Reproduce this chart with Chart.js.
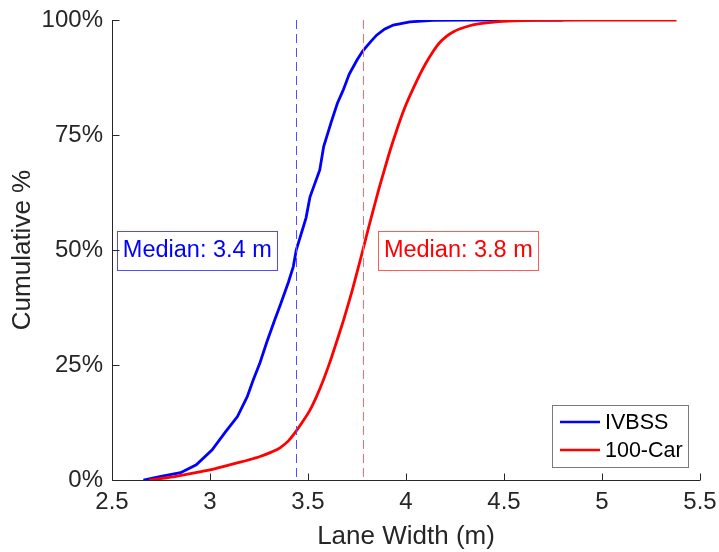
<!DOCTYPE html>
<html>
<head>
<meta charset="utf-8">
<script src="https://cdn.jsdelivr.net/npm/chart.js@4/dist/chart.umd.min.js"></script>
<style>
  html, body { margin: 0; padding: 0; background: #ffffff; }
  #wrap { width: 719px; height: 552px; position: relative; }
</style>
</head>
<body>
<div id="wrap"><canvas id="c" width="719" height="552"></canvas></div>
<script>
// ---- Data ----
const seriesNames = ["IVBSS", "100-Car"];
const seriesColors = ["#0000ff", "#ff0000"];

const ivbssWidth = [2.66, 2.75, 2.85, 2.93, 3.01, 3.08, 3.14, 3.19, 3.22, 3.255, 3.29, 3.33, 3.36, 3.40, 3.425, 3.44, 3.49, 3.51, 3.56, 3.58, 3.62, 3.65, 3.68, 3.71, 3.75, 3.78, 3.82, 3.85, 3.89, 3.935, 4.02, 4.14, 4.30, 4.80];
const ivbssCum   = [0, 0.8, 1.6, 3.3, 6.5, 10.5, 13.8, 18.1, 21.7, 25.5, 30.0, 34.8, 38.2, 43.0, 46.4, 50.0, 57.0, 61.5, 67.4, 72.5, 78.0, 81.9, 84.8, 88.2, 91.3, 93.3, 95.3, 96.7, 98.0, 98.9, 99.6, 99.9, 100, 100];

const carWidth = [2.69, 2.80, 2.90, 3.00, 3.10, 3.20, 3.255, 3.31, 3.357, 3.40, 3.434, 3.47, 3.51, 3.545, 3.578, 3.61, 3.638, 3.67, 3.697, 3.725, 3.748, 3.78, 3.81, 3.833, 3.86, 3.893, 3.92, 3.953, 3.98, 4.004, 4.04, 4.071, 4.10, 4.139, 4.17, 4.208, 4.24, 4.276, 4.32, 4.361, 4.45, 4.55, 4.70, 4.90, 5.38];
const carCum   = [0, 0.6, 1.4, 2.2, 3.3, 4.4, 5.1, 6.0, 7.0, 8.5, 10.3, 12.5, 15.2, 18.3, 21.7, 25.4, 29.0, 33.2, 37.0, 41.1, 44.8, 50.0, 55.0, 58.7, 63.0, 67.9, 71.8, 76.1, 79.4, 82.0, 85.4, 88.2, 90.5, 93.2, 95.0, 96.5, 97.4, 98.1, 98.7, 99.1, 99.55, 99.8, 99.92, 100, 100];

const medianValues = [3.44, 3.78];
const medianLabels = ["Median: 3.4 m", "Median: 3.8 m"];

const xTicks = [2.5, 3, 3.5, 4, 4.5, 5, 5.5];
const yTicks = [0, 25, 50, 75, 100];
const xTitle = "Lane Width (m)";
const yTitle = "Cumulative %";

// ---- Build library structures ----
function pts(xs, ys) { return xs.map((x, i) => ({ x: x, y: ys[i] })); }

const axisColor = "#262626";
const FONT = "'Liberation Sans', Arial, Helvetica, sans-serif";

const overlayPlugin = {
  id: "overlay",
  afterDatasetsDraw(chart) {
    const ctx = chart.ctx;
    const xs = chart.scales.x, ys = chart.scales.y;
    const ca = chart.chartArea;
    ctx.save();
    // median dashed lines
    const dashCols = ["#4f4fff", "#ff6a6a"];
    medianValues.forEach((m, i) => {
      const px = Math.round(xs.getPixelForValue(m)) + 0.5;
      ctx.strokeStyle = dashCols[i];
      ctx.lineWidth = 1;
      ctx.setLineDash([9, 5]);
      ctx.beginPath();
      ctx.moveTo(px, ca.top);
      ctx.lineTo(px, ca.bottom);
      ctx.stroke();
    });
    ctx.setLineDash([]);
    // median annotation boxes
    ctx.font = "23.5px " + FONT;
    const boxBorders = ["#4d4dff", "#ff5a5a"];
    medianValues.forEach((m, i) => {
      const px = xs.getPixelForValue(m);
      const tw = ctx.measureText(medianLabels[i]).width;
      const bw = tw + 11, bh = 39;
      const cy = ys.getPixelForValue(50);
      const left = i === 0 ? px - 19 - bw : px + 15.5;
      const top = cy - bh / 2;
      ctx.fillStyle = "#ffffff";
      ctx.fillRect(left, top, bw, bh);
      ctx.strokeStyle = boxBorders[i];
      ctx.lineWidth = 1;
      ctx.strokeRect(Math.round(left) + 0.5, Math.round(top) + 0.5, Math.round(bw), Math.round(bh));
      ctx.fillStyle = seriesColors[i];
      ctx.textBaseline = "middle";
      ctx.textAlign = "left";
      ctx.fillText(medianLabels[i], left + 5.5, cy + 1);
    });
    ctx.restore();
  },
  afterDraw(chart) {
    const ctx = chart.ctx;
    const xs = chart.scales.x, ys = chart.scales.y;
    const ca = chart.chartArea;
    ctx.save();
    // axis lines
    ctx.strokeStyle = axisColor;
    ctx.lineWidth = 1;
    ctx.beginPath();
    ctx.moveTo(Math.round(ca.left) + 0.5, ca.top);
    ctx.lineTo(Math.round(ca.left) + 0.5, Math.round(ca.bottom) + 0.5);
    ctx.lineTo(ca.right, Math.round(ca.bottom) + 0.5);
    ctx.stroke();
    // inward ticks
    ctx.beginPath();
    xTicks.forEach(v => {
      const px = Math.round(xs.getPixelForValue(v)) + 0.5;
      ctx.moveTo(px, Math.round(ca.bottom) + 0.5);
      ctx.lineTo(px, Math.round(ca.bottom) - 6.5);
    });
    yTicks.forEach(v => {
      const py = Math.round(ys.getPixelForValue(v)) + 0.5;
      ctx.moveTo(Math.round(ca.left) + 0.5, py);
      ctx.lineTo(Math.round(ca.left) + 7.5, py);
    });
    ctx.stroke();
    // legend box
    const lw = 136, lh = 62;
    const lx = ca.right - 12 - lw, ly = ca.bottom - 13 - lh;
    ctx.fillStyle = "#ffffff";
    ctx.fillRect(lx, ly, lw, lh);
    ctx.strokeStyle = "#7a7a7a";
    ctx.strokeRect(Math.round(lx) + 0.5, Math.round(ly) + 0.5, lw, lh);
    ctx.font = "21.5px " + FONT;
    ctx.textBaseline = "middle";
    ctx.textAlign = "left";
    chart.data.datasets.forEach((ds, i) => {
      const rowY = ly + 17 + i * 28;
      ctx.strokeStyle = ds.borderColor;
      ctx.lineWidth = 2.5;
      ctx.beginPath();
      ctx.moveTo(lx + 8, rowY);
      ctx.lineTo(lx + 48, rowY);
      ctx.stroke();
      ctx.fillStyle = "#000000";
      ctx.fillText(ds.label, lx + 53, rowY + 1);
    });
    ctx.restore();
  }
};

new Chart(document.getElementById("c"), {
  type: "line",
  data: {
    datasets: [
      {
        label: seriesNames[0],
        data: pts(ivbssWidth, ivbssCum),
        borderColor: seriesColors[0],
        borderWidth: 2.8,
        pointRadius: 0,
        tension: 0,
        fill: false,
        order: 2
      },
      {
        label: seriesNames[1],
        data: pts(carWidth, carCum),
        borderColor: seriesColors[1],
        borderWidth: 2.8,
        pointRadius: 0,
        cubicInterpolationMode: "monotone",
        fill: false,
        order: 1
      }
    ]
  },
  options: {
    responsive: false,
    animation: false,
    devicePixelRatio: 1,
    layout: { padding: { left: 0, top: 20, right: 19, bottom: 0 } },
    plugins: {
      legend: { display: false },
      tooltip: { enabled: false }
    },
    scales: {
      x: {
        type: "linear",
        min: 2.5,
        max: 5.5,
        afterFit(s) { s.height = 72; s.paddingLeft = 0; s.paddingRight = 0; },
        afterBuildTicks(s) { s.ticks = xTicks.map(v => ({ value: v })); },
        grid: { display: false, drawTicks: false },
        border: { display: false },
        ticks: {
          color: axisColor,
          font: { family: FONT, size: 24 },
          padding: 8,
          maxRotation: 0,
          callback: v => String(v)
        },
        title: {
          display: true,
          text: xTitle,
          color: axisColor,
          font: { family: FONT, size: 26 },
          padding: { top: 0, bottom: 0 }
        }
      },
      y: {
        type: "linear",
        min: 0,
        max: 100,
        afterFit(s) { s.width = 112; s.paddingTop = 0; s.paddingBottom = 0; },
        afterBuildTicks(s) { s.ticks = yTicks.map(v => ({ value: v })); },
        grid: { display: false, drawTicks: false },
        border: { display: false },
        ticks: {
          color: axisColor,
          font: { family: FONT, size: 24 },
          padding: 9,
          callback: v => v + "%"
        },
        title: {
          display: true,
          text: yTitle,
          color: axisColor,
          font: { family: FONT, size: 26 },
          padding: { top: 7, bottom: 0 }
        }
      }
    }
  },
  plugins: [overlayPlugin]
});
</script>
</body>
</html>
